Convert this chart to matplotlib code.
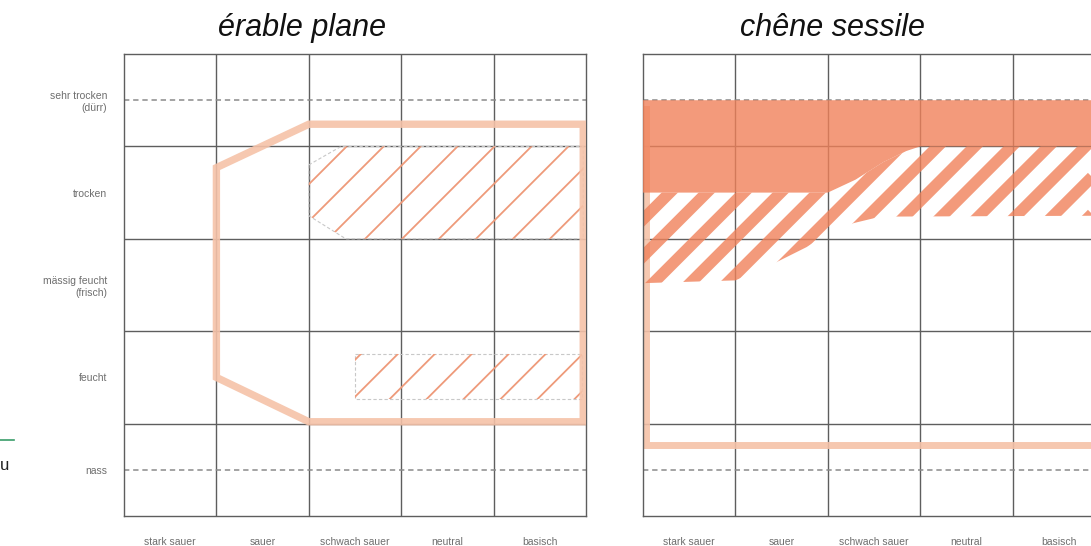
import numpy as np
import matplotlib.pyplot as plt
from matplotlib.patches import Polygon
from matplotlib.lines import Line2D

# axis categories
ph_labels = ["stark sauer", "sauer", "schwach sauer", "neutral", "basisch"]
moisture_labels = ["sehr trocken\n(dürr)", "trocken", "mässig feucht\n(frisch)", "feucht", "nass"]
titles = ["érable plane", "chêne sessile"]

# x = pH class (0..5), y = moisture class (0 = top/dry .. 5 = bottom/wet)
# érable plane
erable_range_x = [2.0, 4.97, 4.97, 2.0, 1.0, 1.0]
erable_range_y = [0.76, 0.76, 3.98, 3.98, 3.5, 1.23]
erable_opt1_x = [2.0, 2.35, 4.97, 4.97, 2.4, 2.0]
erable_opt1_y = [1.2, 1.0, 1.0, 2.0, 2.0, 1.75]
erable_opt2_x = [2.5, 4.96, 4.96, 2.5]
erable_opt2_y = [3.25, 3.25, 3.73, 3.73]

# chêne sessile (top edge of the range is hidden under the filled band)
chene_range_x = [0.03, 0.03, 5.0, 5.0]
chene_range_y = [0.6, 4.23, 4.23, 0.6]
chene_opt_x = [0, 5, 5, 3.0, 2.85, 2.6, 2.3, 2.0, 0]
chene_opt_y = [0.5, 0.5, 1.0, 1.0, 1.05, 1.17, 1.36, 1.5, 1.5]
chene_good_x = [0, 2.0, 2.3, 2.6, 2.85, 3.0, 5, 5, 2.57, 2.28, 2.0, 1.77, 1.45, 1.0, 0]
chene_good_y = [1.5, 1.5, 1.36, 1.17, 1.05, 1.0, 1.0, 1.75, 1.76, 1.83, 1.94, 2.09, 2.25, 2.45, 2.48]

GRID = "#5e5e5e"
LIGHT = "#f5c2a8"   # range outline
FILL = "#f0815a"    # drawn with alpha -> ~#f39a78 on white
THIN = "#ee9a7a"


def hatch(ax, xs, ys, lw, color, phase, alpha=1.0, outline=False):
    # diagonal stripes (x + y = c) clipped to the polygon
    region = Polygon(np.column_stack([xs, ys]), closed=True, facecolor="none",
                     edgecolor="#c8c8c8" if outline else "none",
                     linestyle=(0, (3, 2)), linewidth=0.8, zorder=2)
    ax.add_patch(region)
    for c in np.arange(phase - 1.2, 11, 0.4):
        ln, = ax.plot([c + 1, c - 6], [-1, 6], color=color, lw=lw, alpha=alpha,
                      solid_capstyle="butt", zorder=2)
        ln.set_clip_path(region)


def base(ax, ylabels):
    ax.set_xlim(0, 5)
    ax.set_ylim(5, 0)
    for s in ax.spines.values():
        s.set_color(GRID)
        s.set_linewidth(1.0)
    for k in range(1, 5):
        ax.axvline(k, color=GRID, lw=1.0, zorder=1)
        ax.axhline(k, color=GRID, lw=1.0, zorder=1)
    for yy in (0.5, 4.5):
        ax.axhline(yy, color="#8a8a8a", lw=1.1, ls=(0, (3.5, 2.5)), zorder=1)
    ax.set_xticks(np.arange(5) + 0.5, ph_labels, fontsize=7.5, color="#6e6e6e")
    if ylabels:
        ax.set_yticks(np.arange(5) + 0.5, moisture_labels, fontsize=7.5, color="#6e6e6e")
    else:
        ax.set_yticks([])
    ax.tick_params(length=0, pad=15)
    ax.tick_params(axis="y", pad=12)


plt.rcParams["font.family"] = ["Liberation Sans", "DejaVu Sans"]
fig = plt.figure(figsize=(10.91, 5.46), dpi=100)
ax1 = fig.add_axes([124 / 1091, 30 / 546, 462 / 1091, 462 / 546])
ax2 = fig.add_axes([643 / 1091, 30 / 546, 462 / 1091, 462 / 546])

# érable plane
base(ax1, True)
hatch(ax1, erable_opt1_x, erable_opt1_y, 1.3, THIN, 0.21, outline=True)
hatch(ax1, erable_opt2_x, erable_opt2_y, 1.3, THIN, 0.21, outline=True)
ax1.add_patch(Polygon(np.column_stack([erable_range_x, erable_range_y]), closed=True,
                      facecolor="none", edgecolor=LIGHT, lw=5.3, alpha=0.9,
                      joinstyle="miter", zorder=3))

# chêne sessile
base(ax2, False)
ax2.plot(chene_range_x, chene_range_y, color=LIGHT, lw=5.0, alpha=0.9,
         solid_joinstyle="miter", zorder=2)
ax2.add_patch(Polygon(np.column_stack([chene_opt_x, chene_opt_y]), closed=True,
                      facecolor=FILL, edgecolor="none", alpha=0.8, zorder=3))
hatch(ax2, chene_good_x, chene_good_y, 8.3, FILL, 0.19, alpha=0.8)

fig.text(302 / 1091, 1 - 28 / 546, titles[0], ha="center", va="center",
         style="italic", fontsize=22, color="#111111")
fig.text(832 / 1091, 1 - 28 / 546, titles[1], ha="center", va="center",
         style="italic", fontsize=22, color="#111111")

# cropped remains at the left edge of the source image
fig.add_artist(Line2D([0, 14 / 1091], [1 - 440 / 546] * 2, color="#3a9d6a", lw=1.2))
fig.text(0, 1 - 465 / 546, "u", ha="left", va="center", fontsize=12, color="#222222")

fig.savefig("out.png", dpi=100)
